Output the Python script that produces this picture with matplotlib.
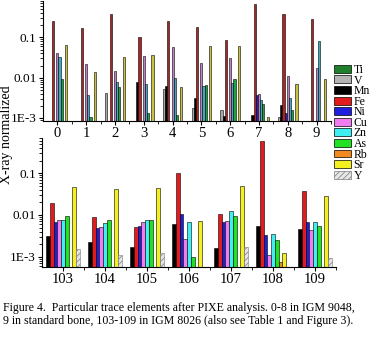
#!/usr/bin/python

# Trace elements after PIXE analysis, two panels of log-scale grouped bars
# saved to out.png

import numpy as np
import matplotlib
matplotlib.use('Agg')
import matplotlib.pyplot as plt
from matplotlib.patches import Patch
from matplotlib.ticker import LogLocator, NullFormatter, FixedLocator

plt.rcParams['font.family'] = ['Liberation Serif', 'DejaVu Serif']
plt.rcParams['hatch.linewidth'] = 0.5

elements = ['Ti', 'V', 'Mn', 'Fe', 'Ni', 'Cu', 'Zn', 'As', 'Rb', 'Sr', 'Y']
legend_colors = ['#1f7f2a', '#b4b4b4', '#000000', '#e21c1c', '#1e1ee0', '#f07cf0',
                 '#3ef0f0', '#22e022', '#f08a1e', '#f4f020', '#e6e6e6']
top_colors = ['#1f7f2a', '#a8a8a8', '#000000', '#a82626', '#3020b0', '#c080c8',
              '#40a8c0', '#20a040', '#f08a1e', '#c8c040', '#e6e6e6']
bot_colors = legend_colors

N = None
# samples 0-8 in IGM 9048, 9 standard bone
top_labels = ['0', '1', '2', '3', '4', '5', '6', '7', '8', '9']
top_Ti = [N, N, N, N, N, N, N, N, N, N]
top_V  = [N, N, 0.0042, N, 0.0051, 0.0018, 0.0016, N, 0.00105, N]
top_Mn = [N, N, N, 0.0079, 0.0062, 0.0032, 0.0011, 0.0012, 0.0021, N]
top_Fe = [0.25, 0.17, 0.39, 0.10, 0.25, 0.18, 0.088, 0.68, 0.37, 0.28]
top_Ni = [N, N, N, N, N, N, N, 0.0037, 0.0013, N]
top_Cu = [0.040, 0.022, 0.015, 0.034, 0.058, 0.023, 0.030, 0.0040, 0.011, 0.017]
top_Zn = [0.032, 0.0037, 0.0076, 0.0068, 0.0099, 0.0062, 0.0072, 0.0028, 0.0031, 0.081]
top_As = [0.0091, 0.00104, 0.0059, 0.0013, 0.0012, 0.0065, 0.0091, 0.0022, 0.0016, N]
top_Rb = [N, N, N, N, N, N, N, N, N, N]
top_Sr = [0.063, 0.014, 0.033, 0.037, 0.0057, 0.061, 0.060, 0.00105, 0.0068, 0.0093]
top_Y  = [N, N, N, N, N, N, N, N, N, N]

# samples 103-109 in IGM 8026
bot_labels = ['103', '104', '105', '106', '107', '108', '109']
bot_Mn = [0.0032, 0.0022, 0.0017, 0.0060, 0.0016, 0.0055, 0.0046]
bot_Fe = [0.019, 0.0088, 0.0052, 0.104, 0.0105, 0.60, 0.038]
bot_Ni = [0.0069, 0.0050, 0.0055, 0.0105, 0.0069, 0.0033, 0.0067]
bot_Cu = [0.0076, 0.0052, 0.0069, 0.0026, 0.0073, 0.0011, 0.0044]
bot_Zn = [0.0075, 0.0065, 0.0076, 0.0066, 0.0127, 0.0035, 0.0067]
bot_As = [0.0095, 0.0076, 0.0076, 0.0010, 0.0095, 0.0025, 0.0055]
bot_Rb = [N, N, N, N, N, 0.00073, N]
bot_Sr = [0.046, 0.041, 0.044, 0.0072, 0.050, 0.0012, 0.029]
bot_Y  = [0.0015, 0.0011, 0.0012, N, 0.0017, N, 0.00091]

top_series = [top_Ti, top_V, top_Mn, top_Fe, top_Ni, top_Cu, top_Zn, top_As, top_Rb, top_Sr, top_Y]
bot_series = [bot_Mn, bot_Fe, bot_Ni, bot_Cu, bot_Zn, bot_As, bot_Rb, bot_Sr, bot_Y]
bot_elems = elements[2:]


def draw_bars(ax, series, names, colors, slot):
    n = len(series)
    for i, (vals, name) in enumerate(zip(series, names)):
        v = np.array([np.nan if a is None else a for a in vals], dtype=float)
        x = np.arange(len(v)) + (i - (n - 1) / 2.) * slot
        m = np.isfinite(v)
        if not m.any():
            continue
        k = elements.index(name)
        if name == 'Y':
            ax.bar(x[m], v[m], slot, color='#e6e6e6', edgecolor='#7a7a7a',
                   hatch='//////', lw=0.4)
        else:
            ax.bar(x[m], v[m], slot, color=colors[k], edgecolor='black', lw=0.4)


def style(ax, labels, ylim):
    ax.set_yscale('log')
    ax.set_ylim(*ylim)
    ax.set_xlim(-0.5, len(labels) - 0.5)
    for s in ('top', 'right'):
        ax.spines[s].set_visible(False)
    ax.set_yticks([0.001, 0.01, 0.1])
    ax.set_yticklabels(['1E-3', '0.01', '0.1'], fontsize=9.5)
    ax.yaxis.set_minor_locator(LogLocator(base=10, subs=np.arange(2, 10)))
    ax.yaxis.set_minor_formatter(NullFormatter())
    ax.set_xticks(np.arange(len(labels)))
    ax.set_xticklabels(labels, fontsize=10.5)
    ax.xaxis.set_minor_locator(FixedLocator(np.arange(len(labels)) + 0.5))
    ax.tick_params(axis='both', which='major', length=3, width=0.8, pad=1.5)
    ax.tick_params(axis='both', which='minor', length=2, width=0.6)


fig = plt.figure(figsize=(3.77, 3.42), dpi=100)
W, H = 377., 342.
ax1 = fig.add_axes([43 / W, (H - 121) / H, 288 / W, 120 / H])
ax2 = fig.add_axes([42 / W, (H - 266.7) / H, 294 / W, 128.7 / H])

draw_bars(ax1, top_series, elements, top_colors, 0.075)
draw_bars(ax2, bot_series, bot_elems, bot_colors, 0.09)
style(ax1, top_labels, (0.00084, 0.80))
style(ax2, bot_labels, (0.000575, 0.70))

fig.text(7 / W, 1 - 135 / H, 'X-ray normalized', rotation=90, fontsize=10,
         ha='center', va='center')

handles = []
for name, c in zip(elements, legend_colors):
    if name == 'Y':
        handles.append(Patch(facecolor=c, edgecolor='#7a7a7a', hatch='//////', lw=0.5))
    else:
        handles.append(Patch(facecolor=c, edgecolor='black', lw=0.5))
fig.legend(handles, elements, loc='upper left', bbox_to_anchor=(334 / W, 1 - 64 / H),
           frameon=False, fontsize=8.5, handlelength=1.45, handleheight=0.65,
           labelspacing=-0.12, handletextpad=0.2, borderpad=0, borderaxespad=0)

fig.text(3 / W, 1 - 308 / H,
         'Figure 4.  Particular trace elements after PIXE analysis. 0-8 in IGM 9048,',
         fontsize=8.6, ha='left', va='center')
fig.text(3 / W, 1 - 321 / H,
         '9 in standard bone, 103-109 in IGM 8026 (also see Table 1 and Figure 3).',
         fontsize=8.6, ha='left', va='center')

fig.savefig('out.png', dpi=100)
